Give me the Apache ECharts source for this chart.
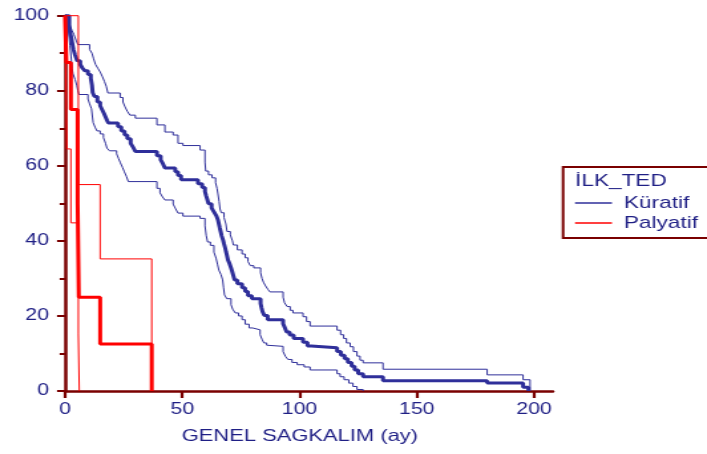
<!DOCTYPE html>
<html><head><meta charset="utf-8">
<script src="https://cdn.jsdelivr.net/npm/echarts@6/dist/echarts.min.js"></script>
<style>
html,body{margin:0;padding:0;background:#fff;overflow:hidden;}
#wrap{width:707px;height:454px;overflow:hidden;position:relative;background:#fff;}
#c{width:532px;height:454px;transform:scaleX(1.3289);transform-origin:0 0;}
</style></head><body><div id="wrap"><div id="c"></div></div>
<script>
// ---- data (time in months, survival %) ----
const xTickLabels = [0, 50, 100, 150, 200];
const yTickLabels = [0, 20, 40, 60, 80, 100];
const legendTitle = 'İLK_TED';
const groupNames = ['Küratif', 'Palyatif'];
const xAxisTitle = 'GENEL SAGKALIM (ay)';

const kuratif = [[0,100],[1.8,97],[2.4,95],[3.0,93],[3.6,91],[4.3,89.5],[5.2,88],[6.5,87],[7.5,86],[8.5,85.3],[9.8,84.3],[11.0,83.3],[11.5,81.5],[11.8,79.5],[12.5,78.5],[13.8,77],[15.0,76],[15.8,75],[16.6,74],[17.3,73],[18.0,72],[18.5,71.4],[22.6,70.4],[24.0,69.3],[25.4,68.2],[26.6,67.2],[28.0,66.0],[29.0,65.0],[30.0,63.8],[39.2,62.7],[40.8,61.6],[41.8,60.5],[42.6,59.4],[47.0,58.4],[48.2,57.4],[49.5,56.3],[56.7,55.2],[58.5,54.2],[59.7,53.1],[60.2,52.0],[60.7,51.0],[61.2,49.9],[62.5,48.8],[63.5,47.7],[64.6,46.6],[65.2,45.6],[65.6,44.5],[66.0,43.4],[66.4,42.4],[66.8,41.3],[67.4,40.2],[67.8,39.2],[68.3,38.1],[68.7,37.0],[69.1,36.0],[69.5,34.9],[70.2,33.9],[70.8,32.8],[71.3,31.8],[71.8,30.7],[72.3,29.6],[73.5,28.6],[75.5,27.5],[76.8,26.5],[78.0,25.4],[79.7,24.6],[83.4,23.3],[83.8,22.2],[84.2,21.2],[85.0,20.1],[86.4,19.0],[93.0,17.9],[93.8,16.8],[94.5,15.7],[95.8,14.9],[97.5,14.0],[101.5,13.0],[103.4,12.0],[105.0,11.5],[116.0,10.5],[117.6,9.5],[119.2,8.6],[120.6,7.6],[122.2,6.6],[123.5,5.6],[125.0,4.6],[127.1,3.8],[135.6,2.7],[180.0,2.1],[195.3,1.0],[197.6,0]];
const kuratifUpper = [[0,100],[1.5,99],[2.1,97.5],[3.0,96],[3.8,95],[4.7,93.5],[5.5,92.3],[10.5,91],[11.5,90],[12.2,88.5],[13.0,87],[14.0,86],[15.0,85],[16.0,83.7],[16.8,82.5],[17.6,81.2],[18.3,79.4],[23.5,78.2],[24.7,77],[25.6,75.7],[26.6,74.5],[27.7,73.5],[30.0,72.7],[39.2,70.9],[42.6,69.0],[46.1,68.2],[48.2,66.0],[50.3,65.4],[57.6,64.2],[59.7,61.0],[60.0,58.6],[61.2,57.6],[62.7,56.8],[64.2,55.5],[64.8,54.0],[65.2,52.5],[65.7,50.5],[66.1,48.5],[66.6,47.5],[67.8,46.2],[68.6,44.5],[69.1,42.5],[70.5,41.6],[71.4,40.0],[71.8,38.9],[73.5,37.6],[75.5,36.5],[76.8,35.5],[78.0,34.5],[79.0,33.4],[80.5,32.8],[83.4,31.5],[84.0,30.0],[84.6,29.0],[85.5,28.0],[86.6,27.0],[87.4,26.4],[93.0,25.0],[93.6,23.5],[94.7,22.5],[96.0,21.5],[97.2,20.8],[101.5,19.8],[103.0,18.5],[104.5,17.3],[116.0,16.2],[117.5,15.0],[118.8,14.0],[120.0,12.8],[121.6,11.8],[123.0,10.5],[124.5,9.3],[125.8,8.2],[127.1,7.5],[135.6,5.8],[180.0,4.3],[195.3,3.0],[198.3,0]];
const kuratifLower = [[0,100],[1.5,96],[2.1,92],[2.6,89],[3.0,86],[3.4,84.5],[4.3,83],[5.0,81.5],[5.5,80],[6.0,79],[9.8,77.8],[10.5,76.5],[11.3,75.2],[11.7,73.0],[12.0,71.5],[12.8,70.3],[13.6,69.3],[15.0,68.5],[16.4,67.5],[17.3,66.0],[17.9,64.7],[19.0,64.0],[22.0,63.2],[22.8,62.0],[23.6,60.8],[24.5,59.6],[25.3,58.4],[26.2,57.2],[27.0,55.8],[39.2,54.0],[40.5,52.8],[41.6,51.7],[42.6,50.9],[46.1,49.8],[47.2,48.5],[48.2,47.4],[50.3,46.6],[57.6,46.0],[59.7,44.0],[60.2,41.5],[60.8,39.7],[62.0,38.8],[63.5,37.0],[64.4,35.4],[65.0,33.8],[65.6,32.2],[66.5,31.0],[67.2,29.6],[67.6,27.5],[68.0,25.6],[69.0,24.6],[70.8,23.0],[71.5,21.8],[72.6,20.8],[74.0,20.0],[75.5,19.0],[76.8,17.8],[78.5,16.8],[80.0,16.3],[83.2,15.0],[84.0,13.8],[84.8,12.8],[86.0,12.2],[87.0,11.9],[93.0,10.5],[94.0,9.2],[95.1,8.4],[96.8,7.6],[99.0,7.0],[102.0,6.4],[104.5,5.6],[116.0,4.6],[117.3,3.8],[119.0,3.0],[121.0,2.1],[122.8,1.2],[124.5,0.4],[127.1,0]];

const palyatif = [[0,100],[0.6,87.5],[2.5,75],[5.4,50],[5.9,25],[15.0,12.5],[37.0,0]];
const palyatifUpper = [[0,100],[5.7,55],[15.0,35.2],[37.0,0]];
const palyatifLower = [[0,100],[0.8,64.5],[2.5,44.8],[5.7,15.2],[6.1,0]];

// ---- styling ----
const BLUE = '#2f2f9a', RED = '#ff0000', AXIS = '#7a0000', NAVY = '#1f1f85';
const FONT = '"Liberation Sans", Arial, sans-serif';

function km(name, data, color, width, z) {
  return { name, type: 'line', step: 'end', data, showSymbol: false, symbol: 'none',
    clip: false, z, silent: true,
    lineStyle: { color, width }, itemStyle: { color } };
}

const chart = echarts.init(document.getElementById('c'));
chart.setOption({
  animation: false,
  backgroundColor: '#fff',
  grid: { left: 48.9, right: 116.0, top: 15.7, bottom: 63 },
  xAxis: {
    type: 'value', min: 0, max: 208, interval: 50,
    axisLine: { show: true, onZero: false, lineStyle: { color: AXIS, width: 2.5 } },
    axisTick: { show: true, customValues: xTickLabels, length: 7, lineStyle: { color: AXIS, width: 2.2 } },
    axisLabel: { customValues: xTickLabels, color: NAVY, fontSize: 16, fontFamily: FONT, margin: 11 },
    splitLine: { show: false },
    name: xAxisTitle, nameLocation: 'middle', nameGap: 37,
    nameTextStyle: { color: NAVY, fontSize: 16.5, fontFamily: FONT, padding: [0, 13.6, 0, 0] }
  },
  yAxis: {
    type: 'value', min: 0, max: 100, interval: 20,
    axisLine: { show: true, onZero: false, lineStyle: { color: AXIS, width: 2.5 } },
    axisTick: { show: true, length: 6, lineStyle: { color: AXIS, width: 2 } },
    minorTick: { show: true, splitNumber: 2, length: 4, lineStyle: { color: AXIS, width: 2 } },
    axisLabel: { customValues: yTickLabels, color: NAVY, fontSize: 16, fontFamily: FONT, margin: 12 },
    splitLine: { show: false }, minorSplitLine: { show: false }
  },
  legend: {
    data: groupNames, orient: 'vertical', left: 432.7, top: 193, padding: 0, itemGap: 0,
    icon: 'rect', itemWidth: 27.8, itemHeight: 1.5, selectedMode: false,
    textStyle: { color: NAVY, fontSize: 17, fontFamily: FONT, lineHeight: 20, padding: [0, 0, 0, 4] }
  },
  graphic: [
    { type: 'rect', shape: { x: 423.7, y: 167, width: 300, height: 71 },
      style: { fill: 'none', stroke: AXIS, lineWidth: 2 }, z: 10 },
    { type: 'text', x: 432.7, y: 181,
      style: { text: legendTitle, fill: NAVY, font: '17px ' + FONT, verticalAlign: 'middle', align: 'left' }, z: 10 }
  ],
  series: [
    km('Küratif üst', kuratifUpper, BLUE, 1, 2),
    km('Küratif alt', kuratifLower, BLUE, 1, 2),
    km(groupNames[0], kuratif, BLUE, 3, 3),
    km('Palyatif üst', palyatifUpper, RED, 1, 4),
    km('Palyatif alt', palyatifLower, RED, 1, 4),
    km(groupNames[1], palyatif, RED, 3, 5)
  ]
});
</script>
</body></html>
